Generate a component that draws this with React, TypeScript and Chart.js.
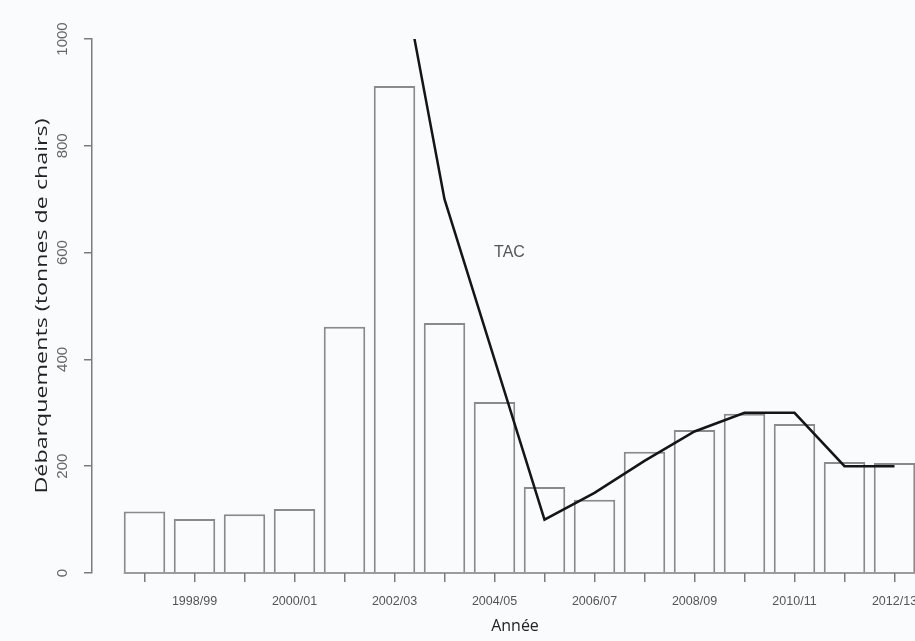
import React, { useEffect, useRef } from 'react';
import { Chart, registerables } from 'chart.js';

Chart.register(...registerables);

// ---- data ----
const categories = [
  '1997/98', '1998/99', '1999/00', '2000/01', '2001/02', '2002/03', '2003/04', '2004/05',
  '2005/06', '2006/07', '2007/08', '2008/09', '2009/10', '2010/11', '2011/12', '2012/13',
];
const landings = [115, 101, 110, 120, 461, 912, 468, 320, 161, 137, 227, 268, 298, 279, 208, 206];
const tac = [null, null, null, null, null, 1200, 700, 400, 100, 150, 210, 265, 300, 300, 200, 200];
const yTickValues = [0, 200, 400, 600, 800, 1000];
const tacLabel = { text: 'TAC', x: 7.3, y: 600 };
const yTitle = 'Débarquements (tonnes de chairs)';
const xTitle = 'Année';

const BG = '#fafbfd';
const AXIS = '#7c7c7c';

function drawText(
  ctx: CanvasRenderingContext2D,
  text: string,
  x: number,
  y: number,
  font: string,
  color: string,
  rotated: boolean,
  targetLength?: number
) {
  ctx.save();
  ctx.font = font;
  ctx.fillStyle = color;
  ctx.textAlign = 'center';
  ctx.textBaseline = 'middle';
  const w = ctx.measureText(text).width;
  const s = targetLength ? targetLength / w : 1;
  ctx.translate(x, y);
  if (rotated) ctx.rotate(-Math.PI / 2);
  ctx.scale(s, 1);
  ctx.fillText(text, 0, 0);
  ctx.restore();
}

export default function App() {
  const ref = useRef<HTMLCanvasElement>(null);

  useEffect(() => {
    const canvas = ref.current!;
    const barPts = landings.map((v, i) => ({ x: i, y: v }));
    const tacPts = tac
      .map((v, i) => ({ x: i, y: v }))
      .filter((p) => p.y !== null) as { x: number; y: number }[];

    const textPlugin = {
      id: 'rText',
      beforeDraw(chart: any) {
        const ctx = chart.ctx;
        ctx.save();
        ctx.fillStyle = BG;
        ctx.fillRect(0, 0, chart.width, chart.height);
        ctx.restore();
      },
      afterDraw(chart: any) {
        const ctx: CanvasRenderingContext2D = chart.ctx;
        const xs = chart.scales.x;
        const ys = chart.scales.y;
        const ca = chart.chartArea;
        // x axis line starting at the first bar's left edge
        const first: any = chart.getDatasetMeta(1).data[0];
        const left = first.x - first.width / 2;
        ctx.save();
        ctx.strokeStyle = AXIS;
        ctx.lineWidth = 1.5;
        ctx.beginPath();
        ctx.moveTo(left, ca.bottom);
        ctx.lineTo(ca.right, ca.bottom);
        ctx.stroke();
        ctx.restore();
        // y tick labels (rotated, R style)
        for (const v of yTickValues) {
          drawText(ctx, String(v), 63, ys.getPixelForValue(v), '15px "Liberation Sans", Arial', '#666', true);
        }
        // y title
        drawText(ctx, yTitle, 42, (ca.top + ca.bottom) / 2, '17px "Open Sans"', '#222', true, 375);
        // x title
        drawText(ctx, xTitle, 515, 626, '16px "Open Sans"', '#222', false);
        // TAC label
        drawText(
          ctx,
          tacLabel.text,
          xs.getPixelForValue(tacLabel.x),
          ys.getPixelForValue(tacLabel.y),
          '16px "Liberation Sans", Arial',
          '#555',
          false
        );
      },
    };

    const chart = new Chart(canvas, {
      type: 'bar',
      data: {
        datasets: [
          {
            type: 'line',
            data: tacPts,
            borderColor: '#151515',
            borderWidth: 2.5,
            pointRadius: 0,
            tension: 0,
            order: 0,
            clip: 0,
          } as any,
          {
            type: 'bar',
            data: barPts,
            backgroundColor: BG,
            borderColor: '#8a8a8a',
            borderWidth: 2,
            categoryPercentage: 1,
            barPercentage: 0.83,
            order: 1,
          } as any,
        ],
      },
      options: {
        responsive: false,
        animation: false,
        devicePixelRatio: 1,
        layout: { padding: { top: 39, left: 0, right: 0, bottom: 0 } },
        plugins: { legend: { display: false }, tooltip: { enabled: false } },
        scales: {
          x: {
            type: 'linear',
            min: -1.05,
            max: 15.51,
            offset: false,
            afterBuildTicks: (s: any) => {
              s.ticks = categories.map((_, i) => ({ value: i }));
            },
            afterFit: (s: any) => {
              s.height = 68;
              s.paddingLeft = 0;
              s.paddingRight = 0;
            },
            ticks: {
              autoSkip: false,
              maxRotation: 0,
              minRotation: 0,
              padding: 12,
              color: '#555',
              font: { size: 12.5, family: '"Liberation Sans", Arial' },
              callback: (v: any) => (Number(v) % 2 === 1 ? categories[Number(v)] : ''),
            },
            grid: {
              display: true,
              offset: false,
              drawOnChartArea: false,
              drawTicks: true,
              tickLength: 9,
              color: AXIS,
              lineWidth: 1.5,
            },
            border: { display: false },
          },
          y: {
            type: 'linear',
            min: 0,
            max: 1000,
            afterBuildTicks: (s: any) => {
              s.ticks = yTickValues.map((v) => ({ value: v }));
            },
            afterFit: (s: any) => {
              s.width = 92;
            },
            ticks: { display: false },
            grid: {
              display: true,
              drawOnChartArea: false,
              drawTicks: true,
              tickLength: 8,
              color: AXIS,
              lineWidth: 1.5,
            },
            border: { display: true, color: AXIS, width: 1.5 },
          },
        },
      } as any,
      plugins: [textPlugin],
    });

    return () => chart.destroy();
  }, []);

  return (
    <div
      style={{
        position: 'absolute',
        left: 0,
        top: 0,
        width: 915,
        height: 641,
        overflow: 'hidden',
        background: BG,
      }}
    >
      <canvas ref={ref} width={920} height={641} style={{ display: 'block' }} />
    </div>
  );
}
